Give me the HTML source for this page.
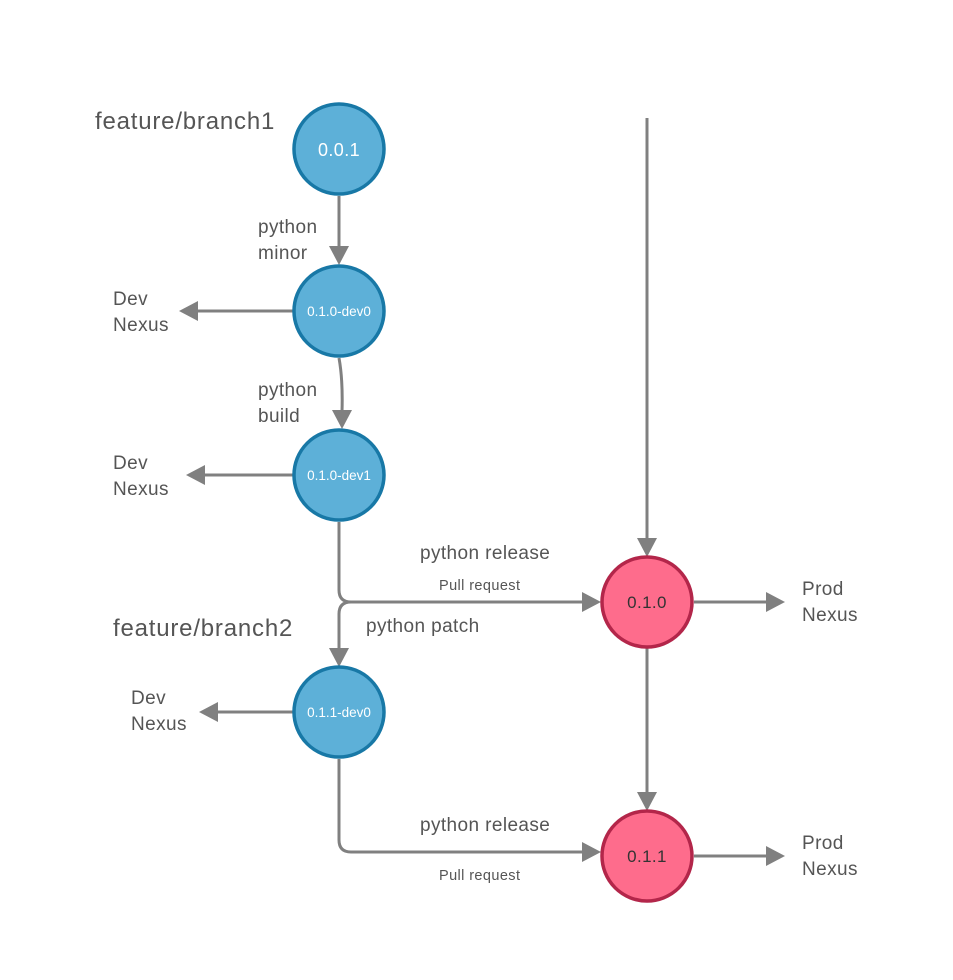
<!DOCTYPE html>
<html><head><style>body{margin:0;background:#fff}svg{display:block}text{font-family:"Liberation Sans",sans-serif;fill:#555;letter-spacing:0.4px}</style></head>
<body>
<svg width="953" height="980" viewBox="0 0 953 980">
<g stroke="#808080" stroke-width="3" fill="none">
<path d="M339 196 V248"/><path d="M339 246 l-10 0 l10 19 l10 -19z" fill="#808080" stroke="none"/>
<path d="M339 358 Q343 380 342 412"/><path d="M342 410 l-10 0 l10 19 l10 -19z" fill="#808080" stroke="none"/>
<path d="M339 522 V590 Q339 602 351 602 H584"/><path d="M582 592 l0 20 l19 -10z" fill="#808080" stroke="none"/>
<path d="M351 602 Q339 602 339 614 V650"/><path d="M329 648 l10 19 l10 -19z" fill="#808080" stroke="none"/>
<path d="M647 118 V540"/><path d="M637 538 l10 19 l10 -19z" fill="#808080" stroke="none"/>
<path d="M647 648 V794"/><path d="M637 792 l10 19 l10 -19z" fill="#808080" stroke="none"/>
<path d="M339 759 V840 Q339 852 351 852 H584"/><path d="M582 842 l0 20 l19 -10z" fill="#808080" stroke="none"/>
<path d="M293 311 H196"/><path d="M198 301 l-19 10 l19 10z" fill="#808080" stroke="none"/>
<path d="M293 475 H203"/><path d="M205 465 l-19 10 l19 10z" fill="#808080" stroke="none"/>
<path d="M293 712 H216"/><path d="M218 702 l-19 10 l19 10z" fill="#808080" stroke="none"/>
<path d="M694 602 H768"/><path d="M766 592 l0 20 l19 -10z" fill="#808080" stroke="none"/>
<path d="M694 856 H768"/><path d="M766 846 l0 20 l19 -10z" fill="#808080" stroke="none"/>
</g>
<g stroke="#1878a6" stroke-width="3.5" fill="#5db0d8">
<circle cx="339" cy="149" r="45"/><circle cx="339" cy="311" r="45"/><circle cx="339" cy="475" r="45"/><circle cx="339" cy="712" r="45"/>
</g>
<g stroke="#b3264a" stroke-width="3.5" fill="#fe6c8c">
<circle cx="647" cy="602" r="45"/><circle cx="647" cy="856" r="45"/>
</g>
<g text-anchor="middle">
<text x="339" y="156" font-size="18" style="fill:#fff">0.0.1</text>
<text x="339" y="316" font-size="13.5" style="fill:#fff;letter-spacing:0">0.1.0-dev0</text>
<text x="339" y="480" font-size="13.5" style="fill:#fff;letter-spacing:0">0.1.0-dev1</text>
<text x="339" y="717" font-size="13.5" style="fill:#fff;letter-spacing:0">0.1.1-dev0</text>
<text x="647" y="608" font-size="17" style="fill:#333">0.1.0</text>
<text x="647" y="862" font-size="17" style="fill:#333">0.1.1</text>
</g>
<g font-size="19">
<text x="95" y="129" font-size="24" style="letter-spacing:0.8px">feature/branch1</text>
<text x="113" y="636" font-size="24" style="letter-spacing:0.8px">feature/branch2</text>
<text x="258" y="233">python</text><text x="258" y="259">minor</text>
<text x="258" y="396">python</text><text x="258" y="422">build</text>
<text x="113" y="305">Dev</text><text x="113" y="331">Nexus</text>
<text x="113" y="469">Dev</text><text x="113" y="495">Nexus</text>
<text x="131" y="704">Dev</text><text x="131" y="730">Nexus</text>
<text x="420" y="559">python release</text>
<text x="366" y="632">python patch</text>
<text x="420" y="831">python release</text>
<text x="802" y="595">Prod</text><text x="802" y="621">Nexus</text>
<text x="802" y="849">Prod</text><text x="802" y="875">Nexus</text>
<text x="439" y="590" font-size="14.5">Pull request</text>
<text x="439" y="880" font-size="14.5">Pull request</text>
</g>
</svg>
</body></html>
